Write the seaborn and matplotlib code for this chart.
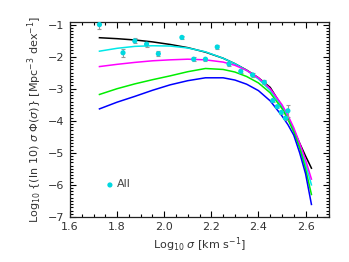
import numpy as np
import pandas as pd
import matplotlib
matplotlib.use("Agg")
import matplotlib.pyplot as plt
from matplotlib.ticker import MultipleLocator
import seaborn as sns

# ---- data ----
curve_x = [1.725, 1.80, 1.875, 1.95, 2.025, 2.10, 2.175, 2.25, 2.30, 2.35,
           2.40, 2.45, 2.50, 2.525, 2.55, 2.575, 2.60, 2.625]
black = [-1.41, -1.44, -1.48, -1.54, -1.62, -1.72, -1.86, -2.05, -2.22, -2.42,
         -2.66, -2.96, -3.55, -3.92, -4.30, -4.70, -5.10, -5.48]
cyan = [-1.83, -1.74, -1.68, -1.66, -1.67, -1.73, -1.85, -2.05, -2.22, -2.43,
        -2.70, -3.05, -3.55, -3.90, -4.30, -4.80, -5.35, -6.00]
magenta = [-2.31, -2.24, -2.18, -2.13, -2.10, -2.08, -2.10, -2.17, -2.27, -2.43,
           -2.66, -3.00, -3.50, -3.83, -4.22, -4.70, -5.22, -5.82]
green = [-3.18, -3.00, -2.85, -2.72, -2.60, -2.47, -2.37, -2.40, -2.48, -2.62,
         -2.82, -3.13, -3.62, -3.95, -4.35, -4.85, -5.50, -6.30]
blue = [-3.63, -3.42, -3.24, -3.05, -2.88, -2.75, -2.66, -2.66, -2.73, -2.86,
        -3.06, -3.38, -3.85, -4.12, -4.45, -5.00, -5.65, -6.61]

pts_x = [1.725, 1.825, 1.875, 1.925, 1.975, 2.075, 2.125, 2.175, 2.225, 2.275,
         2.325, 2.375, 2.425, 2.461, 2.480, 2.497, 2.515, 2.525]
pts_y = [-1.00, -1.88, -1.51, -1.61, -1.91, -1.40, -2.08, -2.08, -1.70, -2.23,
         -2.46, -2.57, -2.80, -3.37, -3.56, -3.74, -3.92, -3.69]
pts_err = [0.15, 0.13, 0.08, 0.08, 0.08, 0.05, 0.06, 0.05, 0.05, 0.06,
           0.06, 0.05, 0.06, 0.05, 0.05, 0.05, 0.06, 0.18]

legend_label = "All"

# ---- build tables ----
series = {"black": black, "cyan": cyan, "magenta": magenta,
          "green": green, "blue": blue}
palette = {"black": "#000000", "cyan": "#00e8e8", "magenta": "#ff00ff",
           "green": "#00ee00", "blue": "#0000ff"}
curves = pd.concat(
    [pd.DataFrame({"x": curve_x, "y": v, "model": k}) for k, v in series.items()],
    ignore_index=True)
pts = pd.DataFrame({"x": pts_x, "y": pts_y, "err": pts_err})

fig = plt.figure(figsize=(3.49, 2.62), dpi=100)
ax = fig.add_axes([0.2006, 0.172, 0.7424, 0.744])

sns.lineplot(data=curves, x="x", y="y", hue="model", palette=palette,
             sort=False, linewidth=1.1, legend=False, ax=ax)
ax.errorbar(pts["x"], pts["y"], yerr=pts["err"], fmt="none",
            ecolor="#999999", elinewidth=0.8, capsize=1.5, capthick=0.8, zorder=3)
sns.scatterplot(data=pts, x="x", y="y", color="#00d8e0", s=14,
                edgecolor="none", ax=ax, zorder=4)

# legend marker + text
ax.scatter([0.154], [0.164], transform=ax.transAxes, color="#00d8e0", s=14,
           edgecolor="none", clip_on=False)
ax.text(0.180, 0.168, legend_label, transform=ax.transAxes, fontsize=8,
        color="#444444", va="center", ha="left")

ax.set_xlim(1.6, 2.7)
ax.set_ylim(-7.0, -0.92)
ax.xaxis.set_major_locator(MultipleLocator(0.2))
ax.xaxis.set_minor_locator(MultipleLocator(0.05))
ax.yaxis.set_major_locator(MultipleLocator(1))
ax.yaxis.set_minor_locator(MultipleLocator(0.1))
ax.set_xticks([1.6, 1.8, 2.0, 2.2, 2.4, 2.6])
ax.set_xticklabels(["1.6", "1.8", "2.0", "2.2", "2.4", "2.6"])
ax.set_yticks([-7, -6, -5, -4, -3, -2, -1])
ax.set_yticklabels(["\u22127", "\u22126", "\u22125", "\u22124", "\u22123", "\u22122", "\u22121"])

ax.tick_params(which="both", direction="in", top=True, right=True,
               labelsize=8, labelcolor="#333333", width=0.8)
ax.tick_params(which="major", length=4.5, pad=4)
ax.tick_params(which="minor", length=2.2)
for s in ax.spines.values():
    s.set_linewidth(0.9)
    s.set_color("#222222")

ax.set_xlabel(r"Log$_{10}$ $\sigma$ [km s$^{-1}$]", fontsize=8, color="#333333",
              labelpad=2)
ax.set_ylabel(r"Log$_{10}$ {(ln 10) $\sigma$ $\Phi(\sigma)$} [Mpc$^{-3}$ dex$^{-1}$]",
              fontsize=8, color="#333333", labelpad=3)

fig.savefig("out.png", dpi=100)
